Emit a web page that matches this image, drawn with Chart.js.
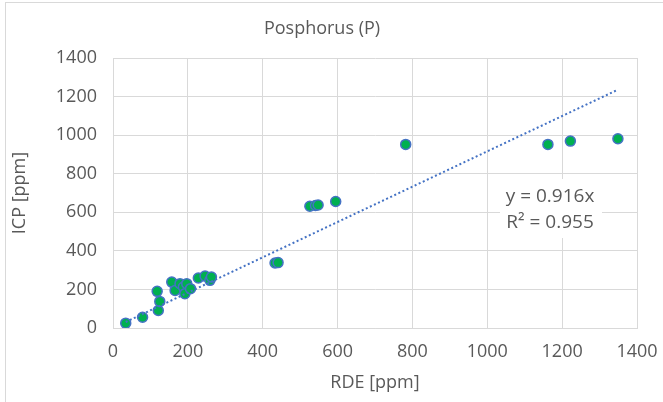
<!DOCTYPE html>
<html><head><meta charset="utf-8">
<script src="https://cdn.jsdelivr.net/npm/chart.js@4"></script>
<style>html,body{margin:0;padding:0;background:#fff;overflow:hidden;} #wrap{width:663px;height:402px;position:relative;} canvas{display:block;}</style>
</head><body><div id="wrap"><canvas id="c" width="663" height="402"></canvas></div>
<script>
const chartTitle = 'Posphorus (P)';
const xAxisTitle = 'RDE [ppm]';
const yAxisTitle = 'ICP [ppm]';
const rdeValues = [34, 79, 121, 125, 118, 157, 166, 179, 188, 192, 197, 207, 228, 246, 259, 263, 433, 441, 526, 541, 548, 595, 782, 1162, 1222, 1349];
const icpValues = [25, 56, 91, 138, 190, 238, 195, 230, 212, 178, 230, 204, 259, 269, 247, 264, 337, 339, 631, 635, 638, 656, 952, 952, 969, 981];
const trendSlope = 0.916;
const rSquared = 0.955;
const equationLines = ['y = ' + trendSlope + 'x', 'R\u00B2 = ' + rSquared];
const axisMin = 0, axisMax = 1400, axisStep = 200;

const FONT = '"Open Sans", "Liberation Sans", sans-serif';
const TXT = '#595959';
const GRID = '#d9d9d9';

const points = rdeValues.map((x, i) => ({x: x, y: icpValues[i]}));
const xMin = Math.min(...rdeValues), xMax = Math.max(...rdeValues);
const trend = [{x: xMin, y: trendSlope * xMin}, {x: xMax, y: trendSlope * xMax}];

const decor = {
  id: 'decor',
  beforeDraw(chart) {
    const ctx = chart.ctx;
    ctx.save();
    ctx.fillStyle = '#fff';
    ctx.fillRect(0, 0, chart.width, chart.height);
    ctx.strokeStyle = GRID;
    ctx.lineWidth = 1;
    ctx.strokeRect(5.5, 2.5, chart.width + 20, chart.height + 20);
    ctx.fillStyle = TXT;
    ctx.font = '18px ' + FONT;
    ctx.textAlign = 'center';
    ctx.textBaseline = 'middle';
    ctx.fillText(chartTitle, 322, 29);
    ctx.restore();
  },
  afterDraw(chart) {
    const ctx = chart.ctx;
    ctx.save();
    ctx.fillStyle = '#fff';
    ctx.fillRect(500, 179, 102, 59);
    ctx.fillStyle = TXT;
    ctx.font = '19px ' + FONT;
    ctx.textAlign = 'center';
    ctx.textBaseline = 'middle';
    ctx.fillText(equationLines[0], 550, 197);
    ctx.fillText(equationLines[1], 550, 223);
    ctx.restore();
  }
};

const plain = v => String(v);

new Chart(document.getElementById('c'), {
  type: 'scatter',
  data: {
    datasets: [
      {
        label: 'trend', data: trend, type: 'line', showLine: true, order: 0,
        borderColor: '#4472C4', borderWidth: 2, borderDash: [2, 2.5],
        pointRadius: 0, fill: false
      },
      {
        label: 'P', data: points, order: 1,
        backgroundColor: '#00B050', borderColor: '#4472C4', borderWidth: 1.5,
        pointRadius: 5
      }
    ]
  },
  options: {
    responsive: false, animation: false, devicePixelRatio: 1,
    layout: {padding: {left: 0, top: 58, right: 26, bottom: 0}},
    plugins: {legend: {display: false}, tooltip: {enabled: false}, title: {display: false}},
    scales: {
      x: {
        type: 'linear', min: axisMin, max: axisMax,
        afterFit(s) { s.height = 74; s.paddingLeft = 0; s.paddingRight = 0; },
        ticks: {stepSize: axisStep, callback: plain, color: TXT, font: {family: FONT, size: 18}, padding: 13, maxRotation: 0},
        grid: {color: GRID, drawTicks: false},
        border: {color: GRID},
        title: {display: true, text: xAxisTitle, color: TXT, font: {family: FONT, size: 18}, padding: {top: 0, bottom: 8}}
      },
      y: {
        type: 'linear', min: axisMin, max: axisMax,
        afterFit(s) { s.width = 113; s.paddingTop = 0; s.paddingBottom = 0; },
        ticks: {stepSize: axisStep, callback: plain, color: TXT, font: {family: FONT, size: 18}, padding: 16},
        grid: {color: GRID, drawTicks: false},
        border: {color: GRID},
        title: {display: true, text: yAxisTitle, color: TXT, font: {family: FONT, size: 18}, padding: {top: 9, bottom: 0}}
      }
    }
  },
  plugins: [decor]
});
</script></body></html>
